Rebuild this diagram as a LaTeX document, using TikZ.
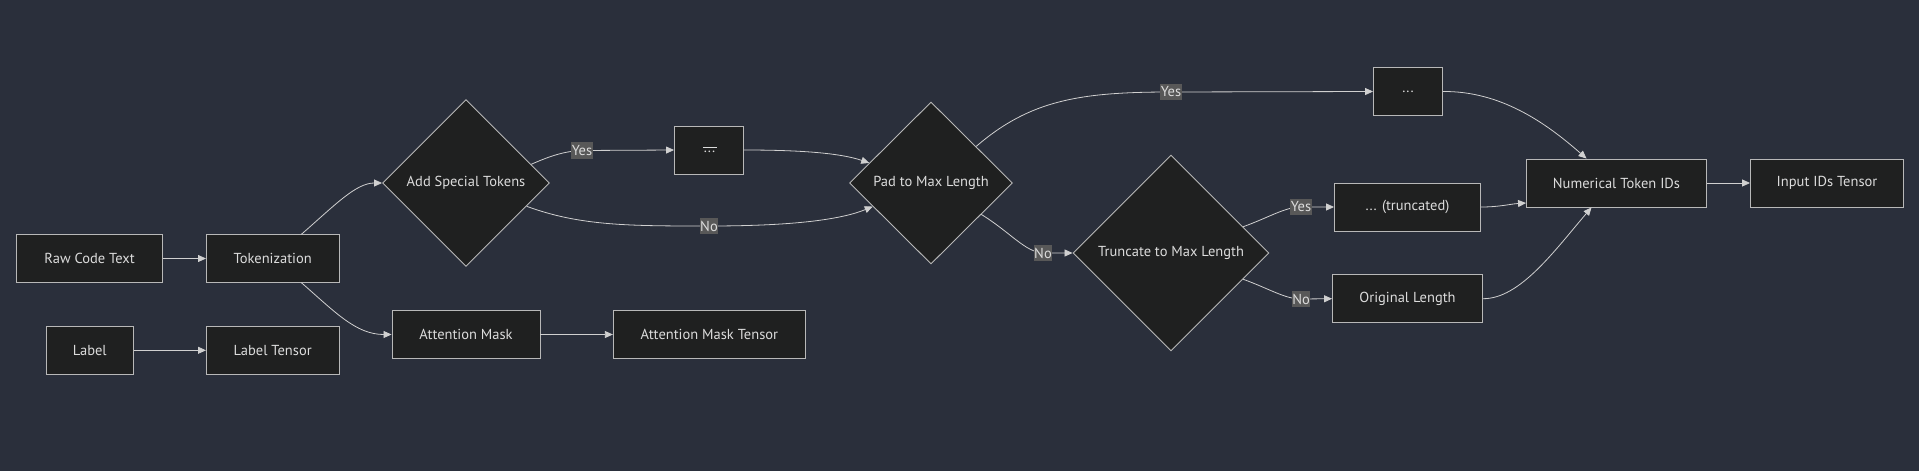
\documentclass[tikz,border=0pt]{standalone}
\usepackage{fontspec}
\setmainfont{PT Sans}
\usetikzlibrary{shapes.geometric,arrows.meta}
\definecolor{bgc}{HTML}{2A2F3B}
\definecolor{nodefill}{HTML}{1F2020}
\definecolor{nodeline}{HTML}{B8B8B8}
\definecolor{txt}{HTML}{DCDCDC}
\definecolor{edgec}{HTML}{D0D0D0}
\definecolor{lblbg}{HTML}{585858}
\begin{document}
\begin{tikzpicture}[x=1pt,y=-1pt,
  every node/.style={font=\fontsize{14.5}{17}\selectfont, text=txt},
  box/.style={draw=nodeline, fill=nodefill, line width=0.9pt, minimum height=47.5pt, inner sep=0pt},
  dia/.style={draw=nodeline, fill=nodefill, line width=0.9pt, shape=diamond, inner sep=0pt},
  lbl/.style={fill=lblbg, inner xsep=0.6pt, inner ysep=3pt, text=txt},
  conn/.style={draw=edgec, line width=0.8pt, -{Triangle[length=8pt,width=7pt]}}]
\fill[bgc] (0,0) rectangle (1919,471);
\useasboundingbox (0,0) rectangle (1919,471);

\node[box, minimum width=146pt] (raw) at (89.6,258.5) {Raw Code Text};
\node[box, minimum width=132.5pt] (tok) at (272.7,258.5) {Tokenization};
\node[box, minimum width=87pt] (label) at (89.8,350.3) {Label};
\node[box, minimum width=132.5pt] (labt) at (272.7,350.3) {Label Tensor};
\node[dia, minimum width=167pt, minimum height=167pt] (ast) at (466,183) {Add Special Tokens};
\node[box, minimum width=148pt] (am) at (466,334.5) {Attention Mask};
\node[box, minimum width=192pt] (amt) at (709.3,334.5) {Attention Mask Tensor};
\node[box, minimum width=69pt, minimum height=48pt] (d1) at (709,150) {\makebox[0pt][l]{\raisebox{4.3pt}{\rule{14pt}{1.2pt}}}\hspace{1pt}...};
\node[dia, minimum width=163pt, minimum height=162pt] (pad) at (931,183) {Pad to Max Length};
\node[box, minimum width=69pt, minimum height=48pt] (d2) at (1408,91.5) {...};
\node[dia, minimum width=196pt, minimum height=196pt] (trunc) at (1171,253) {Truncate to Max Length};
\node[box, minimum width=146pt, minimum height=48pt] (tr) at (1407.5,207) {... (truncated)};
\node[box, minimum width=150pt, minimum height=48pt] (orig) at (1407.5,298.7) {Original Length};
\node[box, minimum width=180pt, minimum height=48pt] (num) at (1616.5,183) {Numerical Token IDs};
\node[box, minimum width=153pt, minimum height=48pt] (inp) at (1827,183) {Input IDs Tensor};

\draw[conn] (raw) -- (tok);
\draw[conn] (label) -- (labt);
\draw[conn] (am) -- (amt);
\draw[conn] (num) -- (inp);
\draw[conn] ([xshift=-38pt]tok.north east) .. controls (335,205) and (356,183) .. (ast.west);
\draw[conn] ([xshift=-38pt]tok.south east) .. controls (335,312) and (356,334.5) .. (am.west);
\draw[conn] (ast.16) .. controls (550,156) and (565,151) .. (582,150.5) node[lbl] {Yes} -- (d1.west);
\draw[conn] (ast.-21) .. controls (580,226) and (630,226) .. (709,226) node[lbl] {No} .. controls (790,226) and (840,220) .. (pad.-158);
\draw[conn] (d1.east) .. controls (800,150) and (840,153) .. (pad.162);
\draw[conn] (pad.39) .. controls (1030,100) and (1080,92) .. (1171,92) node[lbl] {Yes} -- (d2.west);
\draw[conn] (pad.-32) .. controls (1010,232) and (1025,252) .. (1043,253) node[lbl] {No} -- (trunc.west);
\draw[conn] (trunc.20) .. controls (1270,217) and (1285,207) .. (1301,207) node[lbl] {Yes} -- (tr.west);
\draw[conn] (trunc.-20) .. controls (1270,289) and (1285,299) .. (1301,299) node[lbl] {No} -- (orig.west);
\draw[conn] (d2.east) .. controls (1500,91) and (1545,122) .. ([xshift=-30pt]num.north);
\draw[conn] (tr.east) .. controls (1500,207) and (1510,204) .. ([yshift=-20pt]num.west);
\draw[conn] (orig.east) .. controls (1520,299) and (1555,250) .. ([xshift=-25pt]num.south);
\end{tikzpicture}
\end{document}
